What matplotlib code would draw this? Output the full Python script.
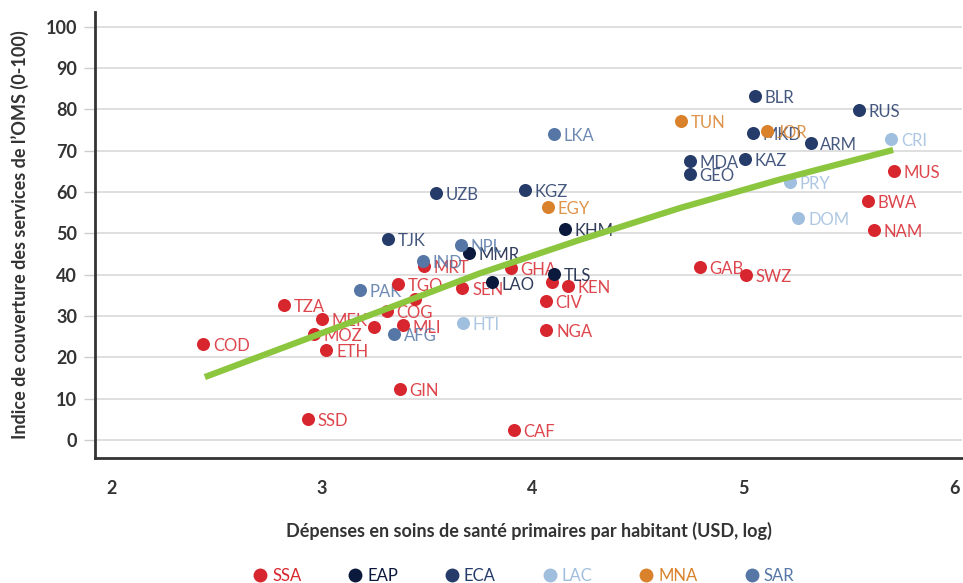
import numpy as np
import matplotlib
matplotlib.use('Agg')
import matplotlib.pyplot as plt
from matplotlib.lines import Line2D

plt.rcParams['font.family'] = ['Lato', 'DejaVu Sans']

# Data: log PHC spending per capita (x) and UHC index (y)
regions = ['SSA', 'EAP', 'ECA', 'LAC', 'MNA', 'SAR']
colors = {
    'SSA': '#d7262e',
    'EAP': '#0b1a3c',
    'ECA': '#253b69',
    'LAC': '#a0bedd',
    'MNA': '#d9822b',
    'SAR': '#5677a6',
}

ssa_codes = ['COD', 'TZA', 'MEK', 'MOZ', 'ETH', '', 'TGO', 'COG', '', 'MLI', 'GIN', 'SSD',
             'MRT', 'SEN', 'GHA', '', 'KEN', 'CIV', 'NGA', 'CAF', 'GAB', 'SWZ', 'MUS', 'BWA', 'NAM']
ssa_x = [2.437, 2.82, 3.001, 2.962, 3.022, 3.248, 3.362, 3.308, 3.441, 3.384, 3.370, 2.935,
         3.485, 3.667, 3.896, 4.093, 4.167, 4.062, 4.066, 3.910, 4.794, 5.012, 5.714, 5.590, 5.619]
ssa_y = [23.2, 32.7, 29.2, 25.7, 21.8, 27.3, 37.7, 31.1, 34.1, 27.7, 12.3, 5.0,
         42.0, 36.7, 41.6, 38.3, 37.3, 33.7, 26.5, 2.3, 41.8, 40.0, 65.1, 57.9, 50.8]

eap_codes = ['MMR', 'LAO', 'TLS', 'KHM']
eap_x = [3.698, 3.806, 4.100, 4.152]
eap_y = [45.2, 38.1, 40.2, 51.1]

eca_codes = ['TJK', 'UZB', 'KGZ', 'BLR', 'RUS', 'MKD', 'ARM', 'MDA', 'GEO', 'KAZ']
eca_x = [3.313, 3.542, 3.962, 5.054, 5.549, 5.044, 5.319, 4.747, 4.747, 5.006]
eca_y = [48.7, 59.7, 60.4, 83.3, 79.9, 74.4, 72.0, 67.5, 64.3, 68.0]

lac_codes = ['HTI', 'CRI', 'PRY', 'DOM']
lac_x = [3.670, 5.703, 5.221, 5.261]
lac_y = [28.4, 72.9, 62.4, 53.8]

mna_codes = ['EGY', 'TUN', 'JOR']
mna_x = [4.074, 4.704, 5.112]
mna_y = [56.3, 77.3, 74.7]

sar_codes = ['PAK', 'AFG', 'IND', 'NPL', 'LKA']
sar_x = [3.181, 3.343, 3.480, 3.659, 4.100]
sar_y = [36.2, 25.7, 43.4, 47.2, 74.1]

# fitted curve
fit_x = [2.445, 3.275, 3.749, 4.223, 4.697, 5.171, 5.711]
fit_y = [15.2, 31.1, 40.3, 48.4, 56.1, 63.0, 70.2]

groups = {
    'SSA': (ssa_codes, ssa_x, ssa_y),
    'EAP': (eap_codes, eap_x, eap_y),
    'ECA': (eca_codes, eca_x, eca_y),
    'LAC': (lac_codes, lac_x, lac_y),
    'MNA': (mna_codes, mna_x, mna_y),
    'SAR': (sar_codes, sar_x, sar_y),
}

fig = plt.figure(figsize=(9.63, 5.83), dpi=100)
ax = fig.add_axes([0.0987, 0.2144, 0.9003, 0.765])

for reg in regions:
    codes, xs, ys = groups[reg]
    c = colors[reg]
    ax.scatter(xs, ys, s=88, color=c, zorder=3, linewidths=0)
    for code, xv, yv in zip(codes, xs, ys):
        if code:
            ax.annotate(code, (xv, yv), xytext=(7, -1.5), textcoords='offset points',
                        va='center', ha='left', fontsize=12, color=c, alpha=0.85, zorder=2)

ax.plot(fit_x, fit_y, color='#8cc63e', lw=4.5, solid_capstyle='butt', zorder=4)

ax.set_xlim(1.924, 6.038)
ax.set_ylim(-4.4, 103.6)
ax.set_xticks([2, 3, 4, 5, 6])
ax.set_yticks(np.arange(0, 101, 10))
ax.yaxis.grid(True, color='#d9d9d9', lw=1.2)
ax.set_axisbelow(True)

for side in ['top', 'right']:
    ax.spines[side].set_visible(False)
for side in ['left', 'bottom']:
    ax.spines[side].set_color('#333333')
    ax.spines[side].set_linewidth(2)

ax.tick_params(axis='y', length=8, width=1, color='#cccccc', pad=5, labelsize=13, labelcolor='#333333')
ax.tick_params(axis='x', length=0, pad=16, labelsize=13, labelcolor='#333333')
for lab in ax.get_xticklabels() + ax.get_yticklabels():
    lab.set_fontweight('bold')

ax.set_xlabel('Dépenses en soins de santé primaires par habitant (USD, log)',
              fontsize=13, fontweight='bold', color='#333333', labelpad=18)
ax.set_ylabel('Indice de couverture des services de l’OMS (0-100)',
              fontsize=13, fontweight='bold', color='#333333', labelpad=12)

handles = [Line2D([], [], marker='o', ls='', markersize=10, color=colors[r],
                  markeredgewidth=0) for r in regions]
leg = fig.legend(handles, regions, loc='lower center', bbox_to_anchor=(0.543, -0.027),
                 ncol=6, frameon=False, fontsize=12, handletextpad=0.2,
                 columnspacing=2.75, handlelength=1.0)
for txt, r in zip(leg.get_texts(), regions):
    txt.set_color(colors[r])

fig.savefig('out.png', dpi=100)
